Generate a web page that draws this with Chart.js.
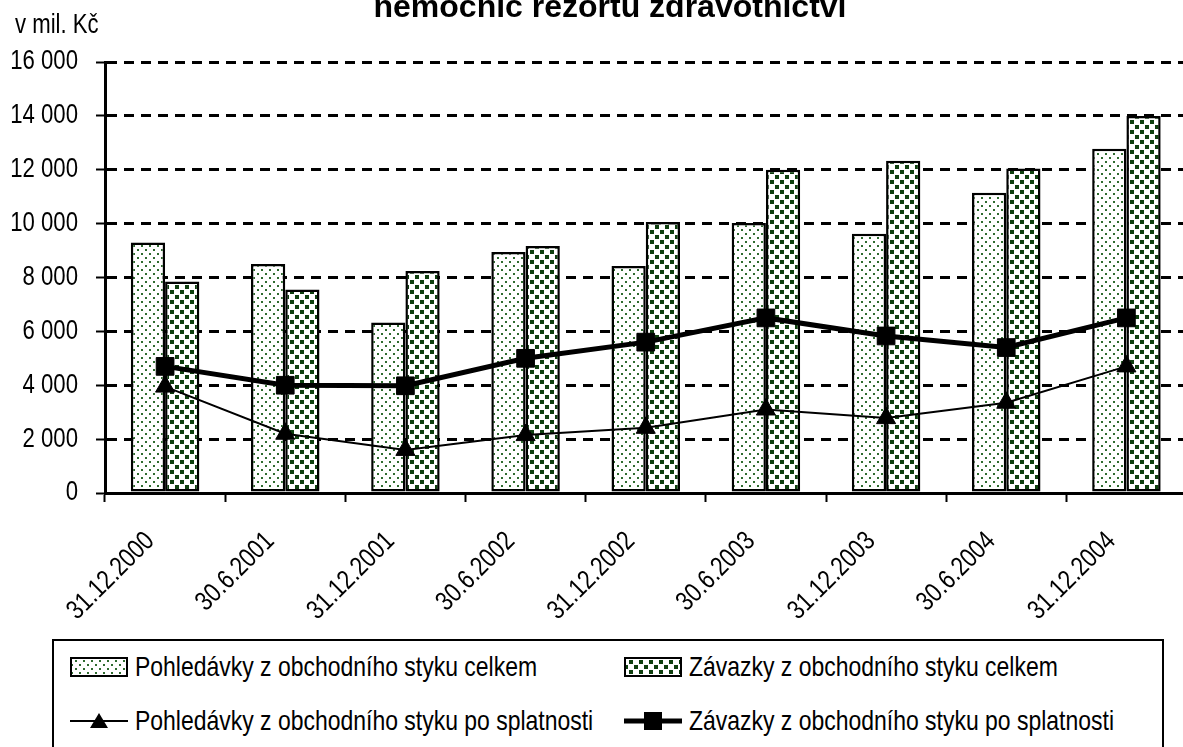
<!DOCTYPE html>
<html>
<head>
<meta charset="utf-8">
<script src="https://cdn.jsdelivr.net/npm/chart.js@4.4.1/dist/chart.umd.min.js"></script>
<style>
html, body { margin: 0; padding: 0; background: #fff; }
#wrap { position: relative; width: 1183px; height: 747px; overflow: hidden; background: #fff; }
#chart { position: absolute; left: 0; top: 0; }
#title { position: absolute; left: 0; width: 1220px; top: -10px; text-align: center;
  font: bold 32px "Liberation Sans", Arial, sans-serif; line-height: 32px; color: #000; }
.narrow { font-family: "Liberation Sans", Arial, sans-serif; color: #000; white-space: nowrap;
  display: inline-block; transform: scaleX(0.82); transform-origin: left center; }
#unit { position: absolute; left: 15px; top: 11px; font-size: 27px; line-height: 27px; }
#legend { position: absolute; left: 52px; top: 639px; width: 1112px; height: 200px;
  border: 2px solid #000; box-sizing: border-box; }
.item { position: absolute; height: 30px; display: flex; align-items: center; }
.item canvas { margin-right: 7px; flex: none; }
.item span { font-size: 28px; }
</style>
</head>
<body>
<div id="wrap">
  <canvas id="chart" width="1200" height="630"></canvas>
  <div id="title">nemocnic rezortu zdravotnictví</div>
  <div id="unit" class="narrow">v mil. Kč</div>
  <div id="legend"></div>
</div>
<script>
const labels = ['31.12.2000', '30.6.2001', '31.12.2001', '30.6.2002', '31.12.2002', '30.6.2003', '31.12.2003', '30.6.2004', '31.12.2004']
const pohledavkyCelkem = [9300, 8500, 6330, 8950, 8430, 10020, 9620, 11150, 12780]
const zavazkyCelkem = [7850, 7550, 8240, 9170, 10060, 12000, 12330, 12050, 14000]
const pohledavkyPoSplatnosti = [3950, 2200, 1600, 2150, 2420, 3100, 2780, 3350, 4700]
const zavazkyPoSplatnosti = [4700, 4000, 3980, 5000, 5600, 6500, 5830, 5400, 6500]
const yTicks = [0, 2000, 4000, 6000, 8000, 10000, 12000, 14000, 16000]

// no narrow font installed, so labels are squeezed by hand
const NARROW = 0.82

function makePattern(ctx, kind) {
    const c = document.createElement('canvas')
    const p = c.getContext('2d')
    if (kind === 'dots') {
        c.width = 8; c.height = 8
        p.fillStyle = '#fff'; p.fillRect(0, 0, 8, 8)
        p.fillStyle = '#2f6b2f'
        p.fillRect(1, 1, 2, 2)
        p.fillRect(5, 5, 2, 2)
    } else {
        c.width = 10; c.height = 10
        p.fillStyle = '#fff'; p.fillRect(0, 0, 10, 10)
        p.fillStyle = '#0e3f0e'
        p.fillRect(0, 0, 4, 4)
        p.fillRect(5, 5, 4, 4)
    }
    return ctx.createPattern(c, 'repeat')
}

function fmt(v) {
    return String(v).replace(/\B(?=(\d{3})+(?!\d))/g, ' ')
}

const narrowLabels = {
    id: 'narrowLabels',
    afterDraw(chart) {
        const c = chart.ctx
        const xs = chart.scales.x
        const ys = chart.scales.y
        c.save()
        c.fillStyle = '#000'
        c.font = '27px "Liberation Sans", Arial, sans-serif'
        c.textBaseline = 'middle'
        c.textAlign = 'right'
        ys.ticks.forEach((t, i) => {
            c.save()
            c.translate(ys.right - 27, ys.getPixelForTick(i))
            c.scale(NARROW, 1)
            c.fillText(fmt(t.value), 0, 0)
            c.restore()
        })
        xs.ticks.forEach((t, i) => {
            c.save()
            c.translate(xs.getPixelForTick(i) - 15, xs.top + 44)
            c.rotate(-Math.PI / 4)
            c.scale(NARROW, 1)
            c.fillText(xs.getLabelForValue(t.value), 0, 0)
            c.restore()
        })
        c.restore()
    }
}

const ctx = document.getElementById('chart').getContext('2d')
const dotsPattern = makePattern(ctx, 'dots')
const squaresPattern = makePattern(ctx, 'squares')

const chart = new Chart(ctx, {
    type: 'bar',
    data: {
        labels: labels,
        datasets: [{
            label: 'Pohledávky z obchodního styku celkem',
            data: pohledavkyCelkem,
            backgroundColor: dotsPattern,
            borderColor: '#000',
            borderWidth: 2.5,
            borderSkipped: false,
            categoryPercentage: 0.57,
            barPercentage: 1,
            order: 2
        }, {
            label: 'Závazky z obchodního styku celkem',
            data: zavazkyCelkem,
            backgroundColor: squaresPattern,
            borderColor: '#000',
            borderWidth: 2.5,
            borderSkipped: false,
            categoryPercentage: 0.57,
            barPercentage: 1,
            order: 2
        }, {
            type: 'line',
            label: 'Pohledávky z obchodního styku po splatnosti',
            data: pohledavkyPoSplatnosti,
            borderColor: '#000',
            backgroundColor: '#000',
            borderWidth: 2,
            pointStyle: 'triangle',
            pointRadius: 11,
            pointBorderWidth: 1,
            order: 1
        }, {
            type: 'line',
            label: 'Závazky z obchodního styku po splatnosti',
            data: zavazkyPoSplatnosti,
            borderColor: '#000',
            backgroundColor: '#000',
            borderWidth: 5,
            pointStyle: 'rect',
            pointRadius: 12.5,
            pointBorderWidth: 1,
            order: 0
        }]
    },
    options: {
        responsive: false,
        animation: false,
        devicePixelRatio: 1,
        layout: { padding: { top: 62, right: 8, left: 0, bottom: 0 } },
        plugins: {
            legend: { display: false },
            tooltip: { enabled: false },
            title: { display: false }
        },
        scales: {
            x: {
                offset: true,
                grid: {
                    display: true,
                    offset: true,
                    drawOnChartArea: false,
                    drawTicks: true,
                    tickLength: 9,
                    tickColor: '#000',
                    tickWidth: 2
                },
                border: { display: true, color: '#000', width: 3 },
                ticks: { display: false, maxRotation: 0, autoSkip: false },
                afterFit: function (scale) { scale.height = 630 - 493 }
            },
            y: {
                min: 0,
                max: 16000,
                afterBuildTicks: function (scale) { scale.ticks = yTicks.map(v => ({ value: v })) },
                grid: {
                    color: '#000',
                    lineWidth: 3,
                    drawTicks: true,
                    tickLength: 9,
                    tickColor: '#000',
                    tickWidth: 2,
                    tickBorderDash: []
                },
                border: { display: true, color: '#000', width: 3, dash: [10, 7] },
                ticks: { display: false },
                afterFit: function (scale) { scale.width = 105 }
            }
        }
    },
    plugins: [narrowLabels]
})

// legend in html, 2 x 2 grid in dataset order
const legendPos = [[70, 667], [624, 667], [70, 721], [624, 721]]
chart.data.datasets.forEach((ds, i) => {
    const item = document.createElement('div')
    item.className = 'item'
    item.style.left = (legendPos[i][0] - 54) + 'px'
    item.style.top = (legendPos[i][1] - 641 - 15) + 'px'
    const sw = document.createElement('canvas')
    sw.width = 58; sw.height = 24
    const s = sw.getContext('2d')
    if (ds.type === 'line') {
        s.strokeStyle = '#000'
        s.lineWidth = ds.borderWidth
        s.beginPath(); s.moveTo(0, 12); s.lineTo(58, 12); s.stroke()
        s.fillStyle = '#000'
        if (ds.pointStyle === 'triangle') {
            s.beginPath(); s.moveTo(29, 4); s.lineTo(38, 19); s.lineTo(20, 19); s.closePath(); s.fill()
        } else {
            s.fillRect(20, 3, 18, 18)
        }
    } else {
        s.fillStyle = ds.backgroundColor
        s.fillRect(1, 3, 56, 18)
        s.strokeStyle = '#000'
        s.lineWidth = 2
        s.strokeRect(1, 3, 56, 18)
    }
    item.appendChild(sw)
    const t = document.createElement('span')
    t.className = 'narrow'
    t.textContent = ds.label
    item.appendChild(t)
    document.getElementById('legend').appendChild(item)
})
</script>
</body>
</html>
